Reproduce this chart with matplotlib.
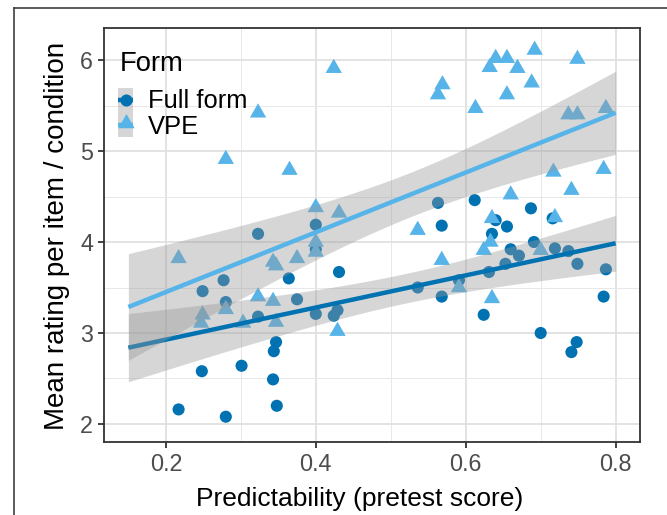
import numpy as np
import matplotlib
matplotlib.use("Agg")
import matplotlib.pyplot as plt
from matplotlib.path import Path
from matplotlib.lines import Line2D
from matplotlib.patches import Rectangle

plt.rcParams['font.family'] = ['Liberation Sans', 'DejaVu Sans']

# ---------------- data ----------------
full_x = [0.217, 0.280, 0.348, 0.248, 0.301, 0.343, 0.347, 0.344, 0.249, 0.277,
          0.280, 0.323, 0.323, 0.364, 0.375, 0.400, 0.424, 0.429, 0.431, 0.400,
          0.400, 0.536, 0.563, 0.568, 0.568, 0.591, 0.612, 0.624, 0.631, 0.635,
          0.640, 0.653, 0.655, 0.660, 0.671, 0.687, 0.691, 0.700, 0.716, 0.719,
          0.737, 0.741, 0.748, 0.749, 0.784, 0.787]
full_y = [2.16, 2.08, 2.20, 2.58, 2.64, 2.49, 2.90, 2.80, 3.46, 3.58,
          3.34, 3.18, 4.09, 3.60, 3.37, 3.21, 3.19, 3.25, 3.67, 4.19,
          3.92, 3.50, 4.43, 4.18, 3.40, 3.58, 4.46, 3.20, 3.67, 4.09,
          4.24, 3.76, 4.17, 3.92, 3.85, 4.37, 4.00, 3.00, 4.26, 3.93,
          3.90, 2.79, 2.90, 3.76, 3.40, 3.70]

vpe_x = [0.217, 0.247, 0.249, 0.280, 0.280, 0.303, 0.323, 0.323, 0.343, 0.347,
         0.343, 0.347, 0.365, 0.375, 0.400, 0.400, 0.400, 0.424, 0.429, 0.431,
         0.536, 0.563, 0.569, 0.568, 0.591, 0.613, 0.624, 0.633, 0.635, 0.632,
         0.640, 0.655, 0.655, 0.635, 0.660, 0.669, 0.688, 0.692, 0.700, 0.717,
         0.719, 0.737, 0.741, 0.749, 0.749, 0.784, 0.787]
vpe_y = [3.82, 3.11, 3.20, 3.26, 4.91, 3.11, 3.40, 5.42, 3.78, 3.74,
         3.35, 3.12, 4.79, 3.82, 4.38, 4.00, 3.89, 5.91, 3.02, 4.32,
         4.13, 5.62, 5.73, 3.80, 3.50, 5.47, 3.91, 4.00, 4.26, 5.92,
         6.02, 6.02, 5.62, 3.38, 4.52, 5.91, 5.75, 6.11, 3.91, 4.77,
         4.27, 5.40, 4.57, 5.40, 6.01, 4.80, 5.47]

groups = ["Full form", "VPE"]
colors = {"Full form": "#0072B2", "VPE": "#56B4E9"}
x_ticks = [0.2, 0.4, 0.6, 0.8]
y_ticks = [2, 3, 4, 5, 6]
x_range = (0.15, 0.8)

# ---------------- figure ----------------
W, H = 667, 515
fig = plt.figure(figsize=(W / 100, H / 100), dpi=100)

def fx(px):
    return px / W

def fy(py):
    return 1 - py / H

ax = fig.add_axes([fx(104), fy(442), (640 - 104) / W, (442 - 28) / H])

tri_path = Path([(0, 0.577), (-0.5, -0.289), (0.5, -0.289), (0, 0.577)],
                [Path.MOVETO, Path.LINETO, Path.LINETO, Path.CLOSEPOLY])

ax.scatter(full_x, full_y, s=76, marker='o', color=colors["Full form"],
           edgecolors='none', zorder=2)
ax.scatter(vpe_x, vpe_y, s=185, marker=tri_path, color=colors["VPE"],
           edgecolors='none', zorder=2)


def linfit(x, y, xs, t=2.014):
    x = np.asarray(x); y = np.asarray(y)
    n = len(x)
    xb = x.mean()
    sxx = ((x - xb) ** 2).sum()
    b1 = ((x - xb) * (y - y.mean())).sum() / sxx
    b0 = y.mean() - b1 * xb
    res = y - (b0 + b1 * x)
    s2 = (res ** 2).sum() / (n - 2)
    fit = b0 + b1 * xs
    se = np.sqrt(s2 * (1 / n + (xs - xb) ** 2 / sxx))
    return fit, fit - t * se, fit + t * se


xs = np.linspace(x_range[0], x_range[1], 100)
z = 3
for g, gx, gy in [("Full form", full_x, full_y), ("VPE", vpe_x, vpe_y)]:
    fit, lo, hi = linfit(gx, gy, xs)
    ax.fill_between(xs, lo, hi, color='#999999', alpha=0.4, lw=0, zorder=z)
    ax.plot(xs, fit, color=colors[g], lw=3.2, zorder=z + 1, solid_capstyle='butt')
    z += 2

ax.set_xlim(0.1175, 0.8325)
ax.set_ylim(1.802, 6.352)
ax.set_xticks(x_ticks)
ax.set_xticklabels([f"{v:.1f}" for v in x_ticks])
ax.set_yticks(y_ticks)
ax.set_xticks([0.3, 0.5, 0.7], minor=True)
ax.set_yticks([2.5, 3.5, 4.5, 5.5], minor=True)

ax.set_axisbelow(True)
ax.grid(which='major', color='#E0E0E0', lw=1.3, zorder=0)
ax.grid(which='minor', color='#E8E8E8', lw=0.7, zorder=0)
for sp in ax.spines.values():
    sp.set_color('#333333')
    sp.set_linewidth(1.3)
    sp.set_zorder(10)
ax.tick_params(which='major', length=4.5, width=1.3, color='#333333',
               labelsize=16.8, labelcolor='#4D4D4D', pad=3.5)
ax.tick_params(which='minor', length=0)

# axis titles
fig.text(fx(360), fy(506), "Predictability (pretest score)", ha='center',
         va='baseline', fontsize=19, color='black')
fig.text(fx(64), fy(236), "Mean rating per item / condition", ha='center',
         va='baseline', rotation=90, rotation_mode='anchor', fontsize=20,
         color='black')

# legend (manual)
fig.add_artist(Rectangle((fx(118), fy(137)), 15 / W, 49 / H, transform=fig.transFigure,
                         facecolor='#999999', alpha=0.4, edgecolor='none'))
fig.add_artist(Line2D([fx(118), fx(133)], [fy(100)] * 2, color=colors["Full form"], lw=3.2,
                      transform=fig.transFigure, solid_capstyle='butt'))
fig.add_artist(Line2D([fx(118), fx(133)], [fy(124.5)] * 2, color=colors["VPE"], lw=3.2,
                      transform=fig.transFigure, solid_capstyle='butt'))
fig.add_artist(Line2D([fx(126)], [fy(100)], marker='o', markersize=8.7, linestyle='none',
                      markerfacecolor=colors["Full form"], markeredgecolor='none',
                      transform=fig.transFigure))
fig.add_artist(Line2D([fx(126)], [fy(123)], marker=tri_path, markersize=13.6, linestyle='none',
                      markerfacecolor=colors["VPE"], markeredgecolor='none',
                      transform=fig.transFigure))
fig.text(fx(120), fy(71), "Form", ha='left', va='baseline', fontsize=19.7)
fig.text(fx(148), fy(108), groups[0], ha='left', va='baseline', fontsize=18.4)
fig.text(fx(148), fy(134), groups[1], ha='left', va='baseline', fontsize=18.4)

# outer frame lines (cropped page border)
fig.add_artist(Line2D([fx(14), 1], [fy(8)] * 2, color='#404040', lw=1.2,
                      transform=fig.transFigure))
fig.add_artist(Line2D([fx(14)] * 2, [fy(8), 0], color='#404040', lw=1.2,
                      transform=fig.transFigure))

fig.savefig("out.png", dpi=100)
